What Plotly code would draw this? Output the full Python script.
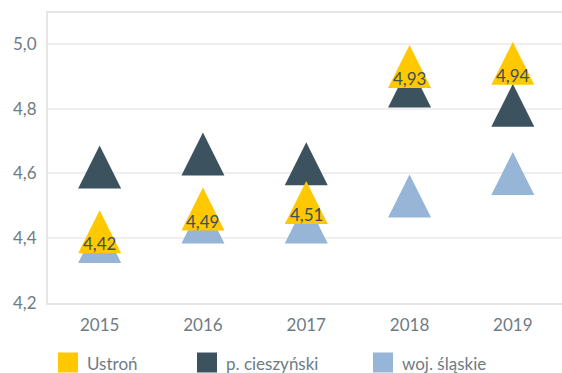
import plotly.graph_objects as go

years = ["2015", "2016", "2017", "2018", "2019"]
ustron = [4.42, 4.49, 4.51, 4.93, 4.94]
cieszynski = [4.62, 4.66, 4.63, 4.87, 4.81]
slaskie = [4.39, 4.45, 4.45, 4.53, 4.60]

series_names = ["Ustroń", "p. cieszyński", "woj. śląskie"]
series_colors = ["#FFC800", "#3D525F", "#97B5D6"]

FONT = "Lato"
TICK_COLOR = "#6F7B84"
LABEL_COLOR = "#3D4F5C"

W, H = 562, 373
M_L, M_R, M_T, M_B = 48, 0, 13, 70
Y_RANGE = [4.2, 5.095]
MARKER = 43  # arrow-up marker: width == height == size

plot_w = W - M_L - M_R
plot_h = H - M_T - M_B
px_per_unit = plot_h / (Y_RANGE[1] - Y_RANGE[0])
# arrow-up has its tip on the data point; the overlay axis is offset by half
# a marker so each triangle ends up centred on its value
half = (MARKER / 2) / px_per_unit


def paper_x(px):
    return (px - M_L) / plot_w


def paper_y(py):
    return (H - M_B - py) / plot_h


fig = go.Figure()

# drawn back to front: region, county, then the town on top
for name, vals, color in [
    (series_names[2], slaskie, series_colors[2]),
    (series_names[1], cieszynski, series_colors[1]),
    (series_names[0], ustron, series_colors[0]),
]:
    fig.add_trace(go.Scatter(
        x=years, y=vals, mode="markers", name=name, yaxis="y2",
        marker=dict(symbol="arrow-up", size=MARKER, color=color,
                    line=dict(width=0)),
        showlegend=False, hoverinfo="skip",
    ))

# value labels for the town series
for i, v in enumerate(ustron):
    fig.add_annotation(
        x=i, y=v, xref="x", yref="y", text=f"{v:.2f}".replace(".", ","),
        showarrow=False, yshift=-12,
        font=dict(family=FONT, size=17, color=LABEL_COLOR),
    )

# legend row: coloured squares with names
legend_px = [58, 197, 373]
for lx, name, color in zip(legend_px, series_names, series_colors):
    fig.add_shape(type="rect", xref="paper", yref="paper",
                  x0=paper_x(lx), x1=paper_x(lx + 20),
                  y0=paper_y(352.5), y1=paper_y(372.5),
                  fillcolor=color, line=dict(width=0))
    fig.add_annotation(xref="paper", yref="paper", x=paper_x(lx + 27),
                       y=paper_y(363), text=name, showarrow=False,
                       xanchor="left", yanchor="middle",
                       font=dict(family=FONT, size=17, color=TICK_COLOR))

axis_line = dict(showline=True, linecolor="#E6E6E6", linewidth=2, ticks="")

fig.update_layout(
    width=W, height=H,
    margin=dict(l=M_L, r=M_R, t=M_T, b=M_B),
    paper_bgcolor="white", plot_bgcolor="white",
    separators=", ",
    font=dict(family=FONT, size=17, color=TICK_COLOR),
    xaxis=dict(
        type="category", range=[-0.5, 4.476],
        showgrid=False, mirror=True, **axis_line,
        tickfont=dict(family=FONT, size=17, color=TICK_COLOR),
        ticklabelstandoff=6,
    ),
    yaxis=dict(
        range=Y_RANGE, tickvals=[4.2, 4.4, 4.6, 4.8, 5.0],
        tickformat=".1f", showgrid=True, gridcolor="#EFEFEF", gridwidth=1.5,
        zeroline=False, **axis_line,
        tickfont=dict(family=FONT, size=17, color=TICK_COLOR),
        ticklabelstandoff=6,
    ),
    yaxis2=dict(
        overlaying="y", range=[Y_RANGE[0] - half, Y_RANGE[1] - half],
        visible=False, showgrid=False, zeroline=False,
    ),
)

fig.write_html("out.html")
